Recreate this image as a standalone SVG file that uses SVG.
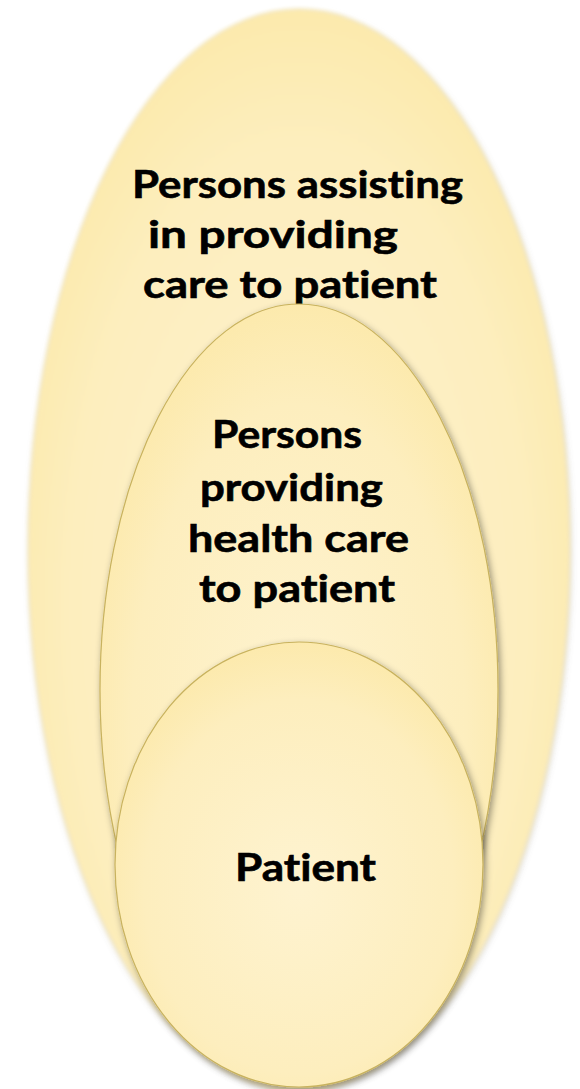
<svg xmlns="http://www.w3.org/2000/svg" width="580" height="1089" viewBox="0 0 580 1089">
  <defs>
    <radialGradient id="fill" cx="50%" cy="55%" r="60%">
      <stop offset="0" stop-color="#FEF3D0"/>
      <stop offset="0.7" stop-color="#FDEEBE"/>
      <stop offset="1" stop-color="#FCE8A6"/>
    </radialGradient>
    <filter id="soft" x="-10%" y="-10%" width="120%" height="120%">
      <feGaussianBlur in="SourceAlpha" stdDeviation="3" result="sb"/>
      <feOffset in="sb" dx="1" dy="2" result="so"/>
      <feFlood flood-color="#6b6b6b" flood-opacity="0.35"/>
      <feComposite in2="so" operator="in" result="shadow"/>
      <feGaussianBlur in="SourceGraphic" stdDeviation="2.2" result="blurred"/>
      <feMerge>
        <feMergeNode in="shadow"/>
        <feMergeNode in="blurred"/>
      </feMerge>
    </filter>
    <filter id="shadow" x="-10%" y="-10%" width="125%" height="125%">
      <feGaussianBlur in="SourceAlpha" stdDeviation="3.5" result="b"/>
      <feOffset in="b" dx="2" dy="3" result="o"/>
      <feFlood flood-color="#000" flood-opacity="0.4"/>
      <feComposite in2="o" operator="in" result="s"/>
      <feMerge>
        <feMergeNode in="s"/>
        <feMergeNode in="SourceGraphic"/>
      </feMerge>
    </filter>
  </defs>
  <style>
    .shape { fill: url(#fill); }
    .edged { stroke: #C8B25E; stroke-width: 1.2; }
    .label { font-family: Lato, "Open Sans", "Liberation Sans", sans-serif; font-weight: 700; font-size: 38px; fill: #000; text-anchor: middle; stroke: #000; stroke-width: 0.6; font-variant-ligatures: none; font-feature-settings: "liga" 0, "dlig" 0; }
  </style>
  <g id="connectors"/>
  <g id="node-assisting">
    <ellipse class="shape" cx="299" cy="550" rx="271" ry="541" filter="url(#soft)"/>
    <text class="label" x="297.5" y="198" textLength="331" lengthAdjust="spacingAndGlyphs">Persons assisting</text>
    <text class="label" x="273" y="248" textLength="250" lengthAdjust="spacingAndGlyphs">in providing</text>
    <text class="label" x="290" y="298" textLength="294" lengthAdjust="spacingAndGlyphs">care to patient</text>
  </g>
  <g id="node-providing">
    <ellipse class="shape edged" cx="299" cy="690" rx="199" ry="386" filter="url(#shadow)"/>
    <text class="label" x="287" y="448" textLength="150" lengthAdjust="spacingAndGlyphs">Persons</text>
    <text class="label" x="291.5" y="501" textLength="183" lengthAdjust="spacingAndGlyphs">providing</text>
    <text class="label" x="298.5" y="552" textLength="221" lengthAdjust="spacingAndGlyphs">health care</text>
    <text class="label" x="297" y="602" textLength="196" lengthAdjust="spacingAndGlyphs">to patient</text>
  </g>
  <g id="node-patient">
    <ellipse class="shape edged" cx="299" cy="864.5" rx="184" ry="222.5" filter="url(#shadow)"/>
    <text class="label" x="305.5" y="881" textLength="141" lengthAdjust="spacingAndGlyphs">Patient</text>
  </g>
</svg>
